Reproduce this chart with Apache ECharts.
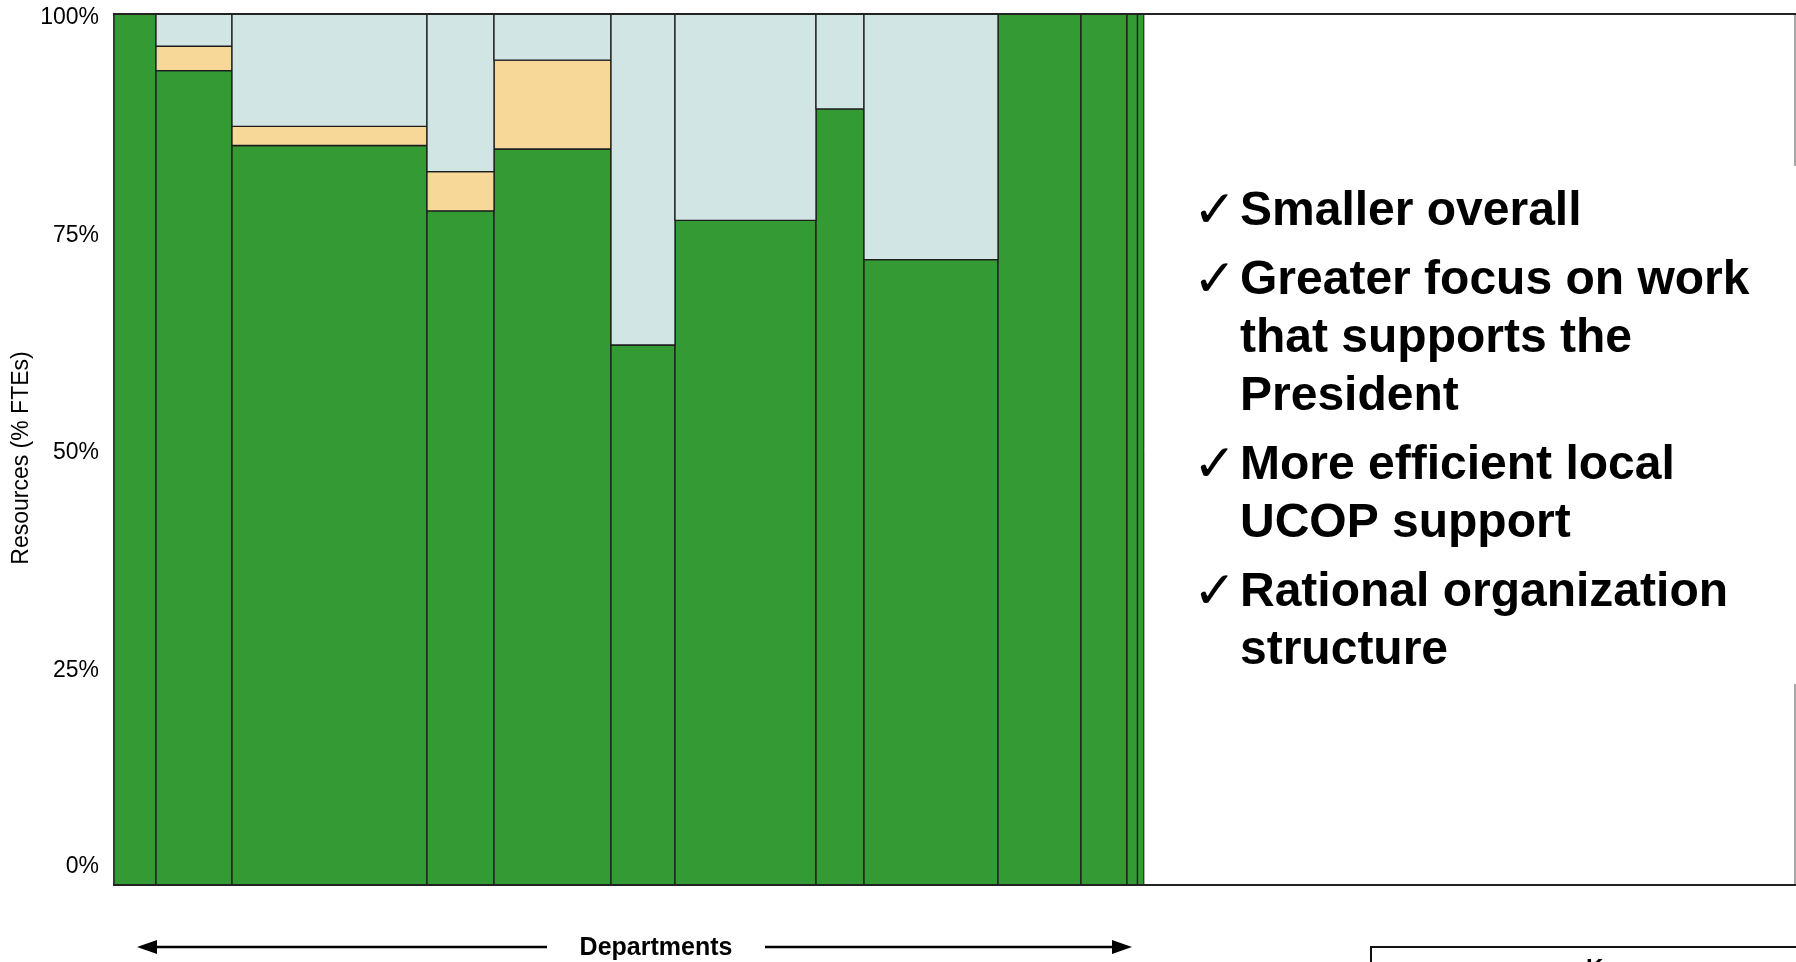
<!DOCTYPE html>
<html><head><meta charset="utf-8">
<script src="https://cdn.jsdelivr.net/npm/echarts@6/dist/echarts.min.js"></script>
<style>html,body{margin:0;padding:0;background:#fff}#c{width:1796px;height:962px}</style>
</head><body><div id="c"></div>
<script>
// ---- data ----
const departments = ['D1','D2','D3','D4','D5','D6','D7','D8','D9','D10','D11','D12','D13'];
const deptSize  = [42, 76, 195, 67, 117, 64, 141, 48, 134, 83, 46, 10.5, 6.5];
const corePct   = [100, 93.5, 84.9, 77.4, 84.5, 62.0, 76.3, 89.1, 71.8, 100, 100, 100, 100];
const localPct  = [0, 2.8, 2.2, 4.5, 10.2, 0, 0, 0, 0, 0, 0, 0, 0];
const otherPct  = [0, 3.7, 12.9, 18.1, 5.3, 38.0, 23.7, 10.9, 28.2, 0, 0, 0, 0];
const yTicks = [0, 25, 50, 75, 100];
const yTitle = 'Resources (% FTEs)';
const xTitle = 'Departments';
const keyTitle = 'Key';
const bullets = [
  ['Smaller overall'],
  ['Greater focus on work', 'that supports the', 'President'],
  ['More efficient local', 'UCOP support'],
  ['Rational organization', 'structure']
];

// ---- build ----
const FONT = "'Liberation Sans', Arial, Helvetica, sans-serif";
const starts = [];
let acc = 0;
deptSize.forEach(w => { starts.push(acc); acc += w; });
const total = acc;

function segData(lowArr, valArr) {
  return departments.map((d, i) => [starts[i], starts[i] + deptSize[i], lowArr[i], lowArr[i] + valArr[i]]);
}
const zeros = departments.map(() => 0);
const coreData = segData(zeros, corePct);
const localData = segData(corePct, localPct);
const otherData = segData(corePct.map((v, i) => v + localPct[i]), otherPct);

function renderSeg(color) {
  return function (params, api) {
    const x0 = api.value(0), x1 = api.value(1), y0 = api.value(2), y1 = api.value(3);
    if (y1 - y0 <= 0) return null;
    const p0 = api.coord([x0, y1]);
    const p1 = api.coord([x1, y0]);
    return {
      type: 'rect',
      shape: { x: p0[0], y: p0[1], width: p1[0] - p0[0], height: p1[1] - p0[1] },
      style: { fill: color, stroke: '#1c1c1c', lineWidth: 1.3 }
    };
  };
}

const chart = echarts.init(document.getElementById('c'), null, { renderer: 'canvas' });

const graphics = [];
// white text panel covering remaining plot area
graphics.push({ type: 'rect', shape: { x: 1144, y: 14, width: 652, height: 871 }, style: { fill: '#fff' }, z: 10 });
graphics.push({ type: 'line', shape: { x1: 1144.5, y1: 14, x2: 1144.5, y2: 885 }, style: { stroke: '#b0b0b0', lineWidth: 1 }, z: 11 });
graphics.push({ type: 'line', shape: { x1: 1795, y1: 14, x2: 1795, y2: 166 }, style: { stroke: '#888', lineWidth: 1.5 }, z: 11 });
graphics.push({ type: 'line', shape: { x1: 1795, y1: 684, x2: 1795, y2: 885 }, style: { stroke: '#888', lineWidth: 1.5 }, z: 11 });
// frame top / bottom
graphics.push({ type: 'line', shape: { x1: 113, y1: 14, x2: 1796, y2: 14 }, style: { stroke: '#222', lineWidth: 2 }, z: 12 });
graphics.push({ type: 'line', shape: { x1: 113, y1: 885, x2: 1796, y2: 885 }, style: { stroke: '#222', lineWidth: 2 }, z: 12 });

// bullet text
let yPos = 212;
bullets.forEach((item, bi) => {
  if (bi > 0) yPos += 69;
  item.forEach((line, li) => {
    if (li > 0) yPos += 58;
    if (li === 0) {
      graphics.push({ type: 'text', x: 1193, y: yPos + 1, z: 13,
        style: { text: '\u2713', font: "52px 'DejaVu Sans', sans-serif", fill: '#000', textVerticalAlign: 'middle' } });
    }
    graphics.push({ type: 'text', x: 1240, y: yPos, z: 13,
      style: { text: line, font: "bold 48px " + FONT, fill: '#000', textVerticalAlign: 'middle' } });
  });
});

// departments arrow
graphics.push({ type: 'line', shape: { x1: 150, y1: 947, x2: 547, y2: 947 }, style: { stroke: '#000', lineWidth: 2.5 }, z: 12 });
graphics.push({ type: 'line', shape: { x1: 765, y1: 947, x2: 1120, y2: 947 }, style: { stroke: '#000', lineWidth: 2.5 }, z: 12 });
graphics.push({ type: 'polygon', shape: { points: [[137, 947], [157, 940], [157, 954]] }, style: { fill: '#000' }, z: 12 });
graphics.push({ type: 'polygon', shape: { points: [[1132, 947], [1112, 940], [1112, 954]] }, style: { fill: '#000' }, z: 12 });
graphics.push({ type: 'text', x: 656, y: 948, z: 12,
  style: { text: xTitle, font: "bold 25px " + FONT, fill: '#000', textAlign: 'center', textVerticalAlign: 'middle' } });

// key box (cut off at bottom)
graphics.push({ type: 'rect', shape: { x: 1371, y: 947, width: 460, height: 60 }, style: { fill: '#fff', stroke: '#111', lineWidth: 2 }, z: 12 });
graphics.push({ type: 'text', x: 1608, y: 957, z: 13,
  style: { text: keyTitle, font: "bold 24px " + FONT, fill: '#000', textAlign: 'center', textVerticalAlign: 'top' } });

// y axis title
graphics.push({ type: 'text', x: 22, y: 458, rotation: Math.PI / 2, z: 12,
  style: { text: yTitle, font: "23px " + FONT, fill: '#000', textAlign: 'center', textVerticalAlign: 'middle' } });

chart.setOption({
  animation: false,
  backgroundColor: '#fff',
  grid: { left: 114, top: 14, right: 652, bottom: 77, containLabel: false },
  xAxis: { type: 'value', min: 0, max: total, show: false },
  yAxis: {
    type: 'value', min: yTicks[0], max: yTicks[yTicks.length - 1], interval: 25,
    axisLine: { show: true, lineStyle: { color: '#333', width: 1.5 } },
    axisTick: { show: false },
    splitLine: { show: false },
    axisLabel: {
      margin: 15, color: '#000', fontSize: 23, fontFamily: FONT,
      formatter: v => v === 0 ? '{z|0%}' : '{n|' + v + '%}',
      rich: {
        n: { fontSize: 23, fontFamily: FONT, color: '#000', padding: [7, 0, 0, 0] },
        z: { fontSize: 23, fontFamily: FONT, color: '#000', padding: [0, 0, 36, 0] }
      }
    }
  },
  series: [
    { name: 'Core', type: 'custom', renderItem: renderSeg('#349a34'), data: coreData, encode: { x: [0, 1], y: [2, 3] } },
    { name: 'Local', type: 'custom', renderItem: renderSeg('#f7d898'), data: localData, encode: { x: [0, 1], y: [2, 3] } },
    { name: 'Other', type: 'custom', renderItem: renderSeg('#d2e5e5'), data: otherData, encode: { x: [0, 1], y: [2, 3] } }
  ],
  graphic: graphics
});
</script></body></html>
